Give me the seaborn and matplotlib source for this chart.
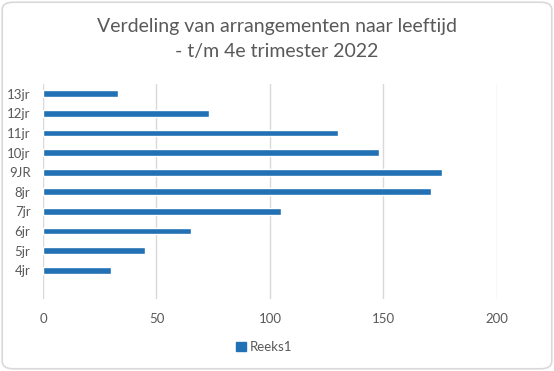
import matplotlib
matplotlib.use("Agg")
import matplotlib.pyplot as plt
import seaborn as sns
import pandas as pd
from matplotlib.patches import FancyBboxPatch, Patch

leeftijd = ["13jr", "12jr", "11jr", "10jr", "9JR", "8jr", "7jr", "6jr", "5jr", "4jr"]
aantal = [33, 73, 130, 148, 176, 171, 105, 65, 45, 30]
xticks = [0, 50, 100, 150, 200]

df = pd.DataFrame({"leeftijd": leeftijd, "aantal": aantal})

sns.set_style("white")
plt.rcParams["font.family"] = ["Lato", "DejaVu Sans"]
grey = "#595959"

fig = plt.figure(figsize=(5.54, 3.71), dpi=100)
ax = fig.add_axes([0.0776, 0.194, 0.8194, 0.5796])

sns.barplot(data=df, x="aantal", y="leeftijd", orient="h", order=leeftijd,
            color="#2271b5", saturation=1, width=0.34, ax=ax)

ax.set_xlim(0, 200)
ax.set_ylim(10.47, -0.5)
ax.set_xticks(xticks)
ax.set_xticklabels([str(v) for v in xticks])
ax.grid(axis="x", color="#d9d9d9", linewidth=1)
ax.set_axisbelow(True)
for s in ax.spines.values():
    s.set_visible(False)
ax.tick_params(axis="both", length=0, labelcolor=grey, labelsize=9.5)
ax.tick_params(axis="y", pad=9)
ax.tick_params(axis="x", pad=10)
ax.set_xlabel("")
ax.set_ylabel("")

fig.text(0.5, 0.895, "Verdeling van arrangementen naar leeftijd\n- t/m 4e trimester 2022",
         ha="center", va="center", fontsize=14, color=grey, linespacing=1.55)

fig.legend(handles=[Patch(color="#2271b5", label="Reeks1")], loc="center",
           bbox_to_anchor=(0.477, 0.065), frameon=False, fontsize=9.5,
           labelcolor=grey, handlelength=0.7, handleheight=0.7, handletextpad=0.3)

border = FancyBboxPatch((0.004, 0.006), 0.992, 0.988, boxstyle="round,pad=0,rounding_size=0.02",
                        transform=fig.transFigure, facecolor="none", edgecolor="#d9d9d9",
                        linewidth=1.2)
fig.patches.append(border)

fig.savefig("out.png", dpi=100)
